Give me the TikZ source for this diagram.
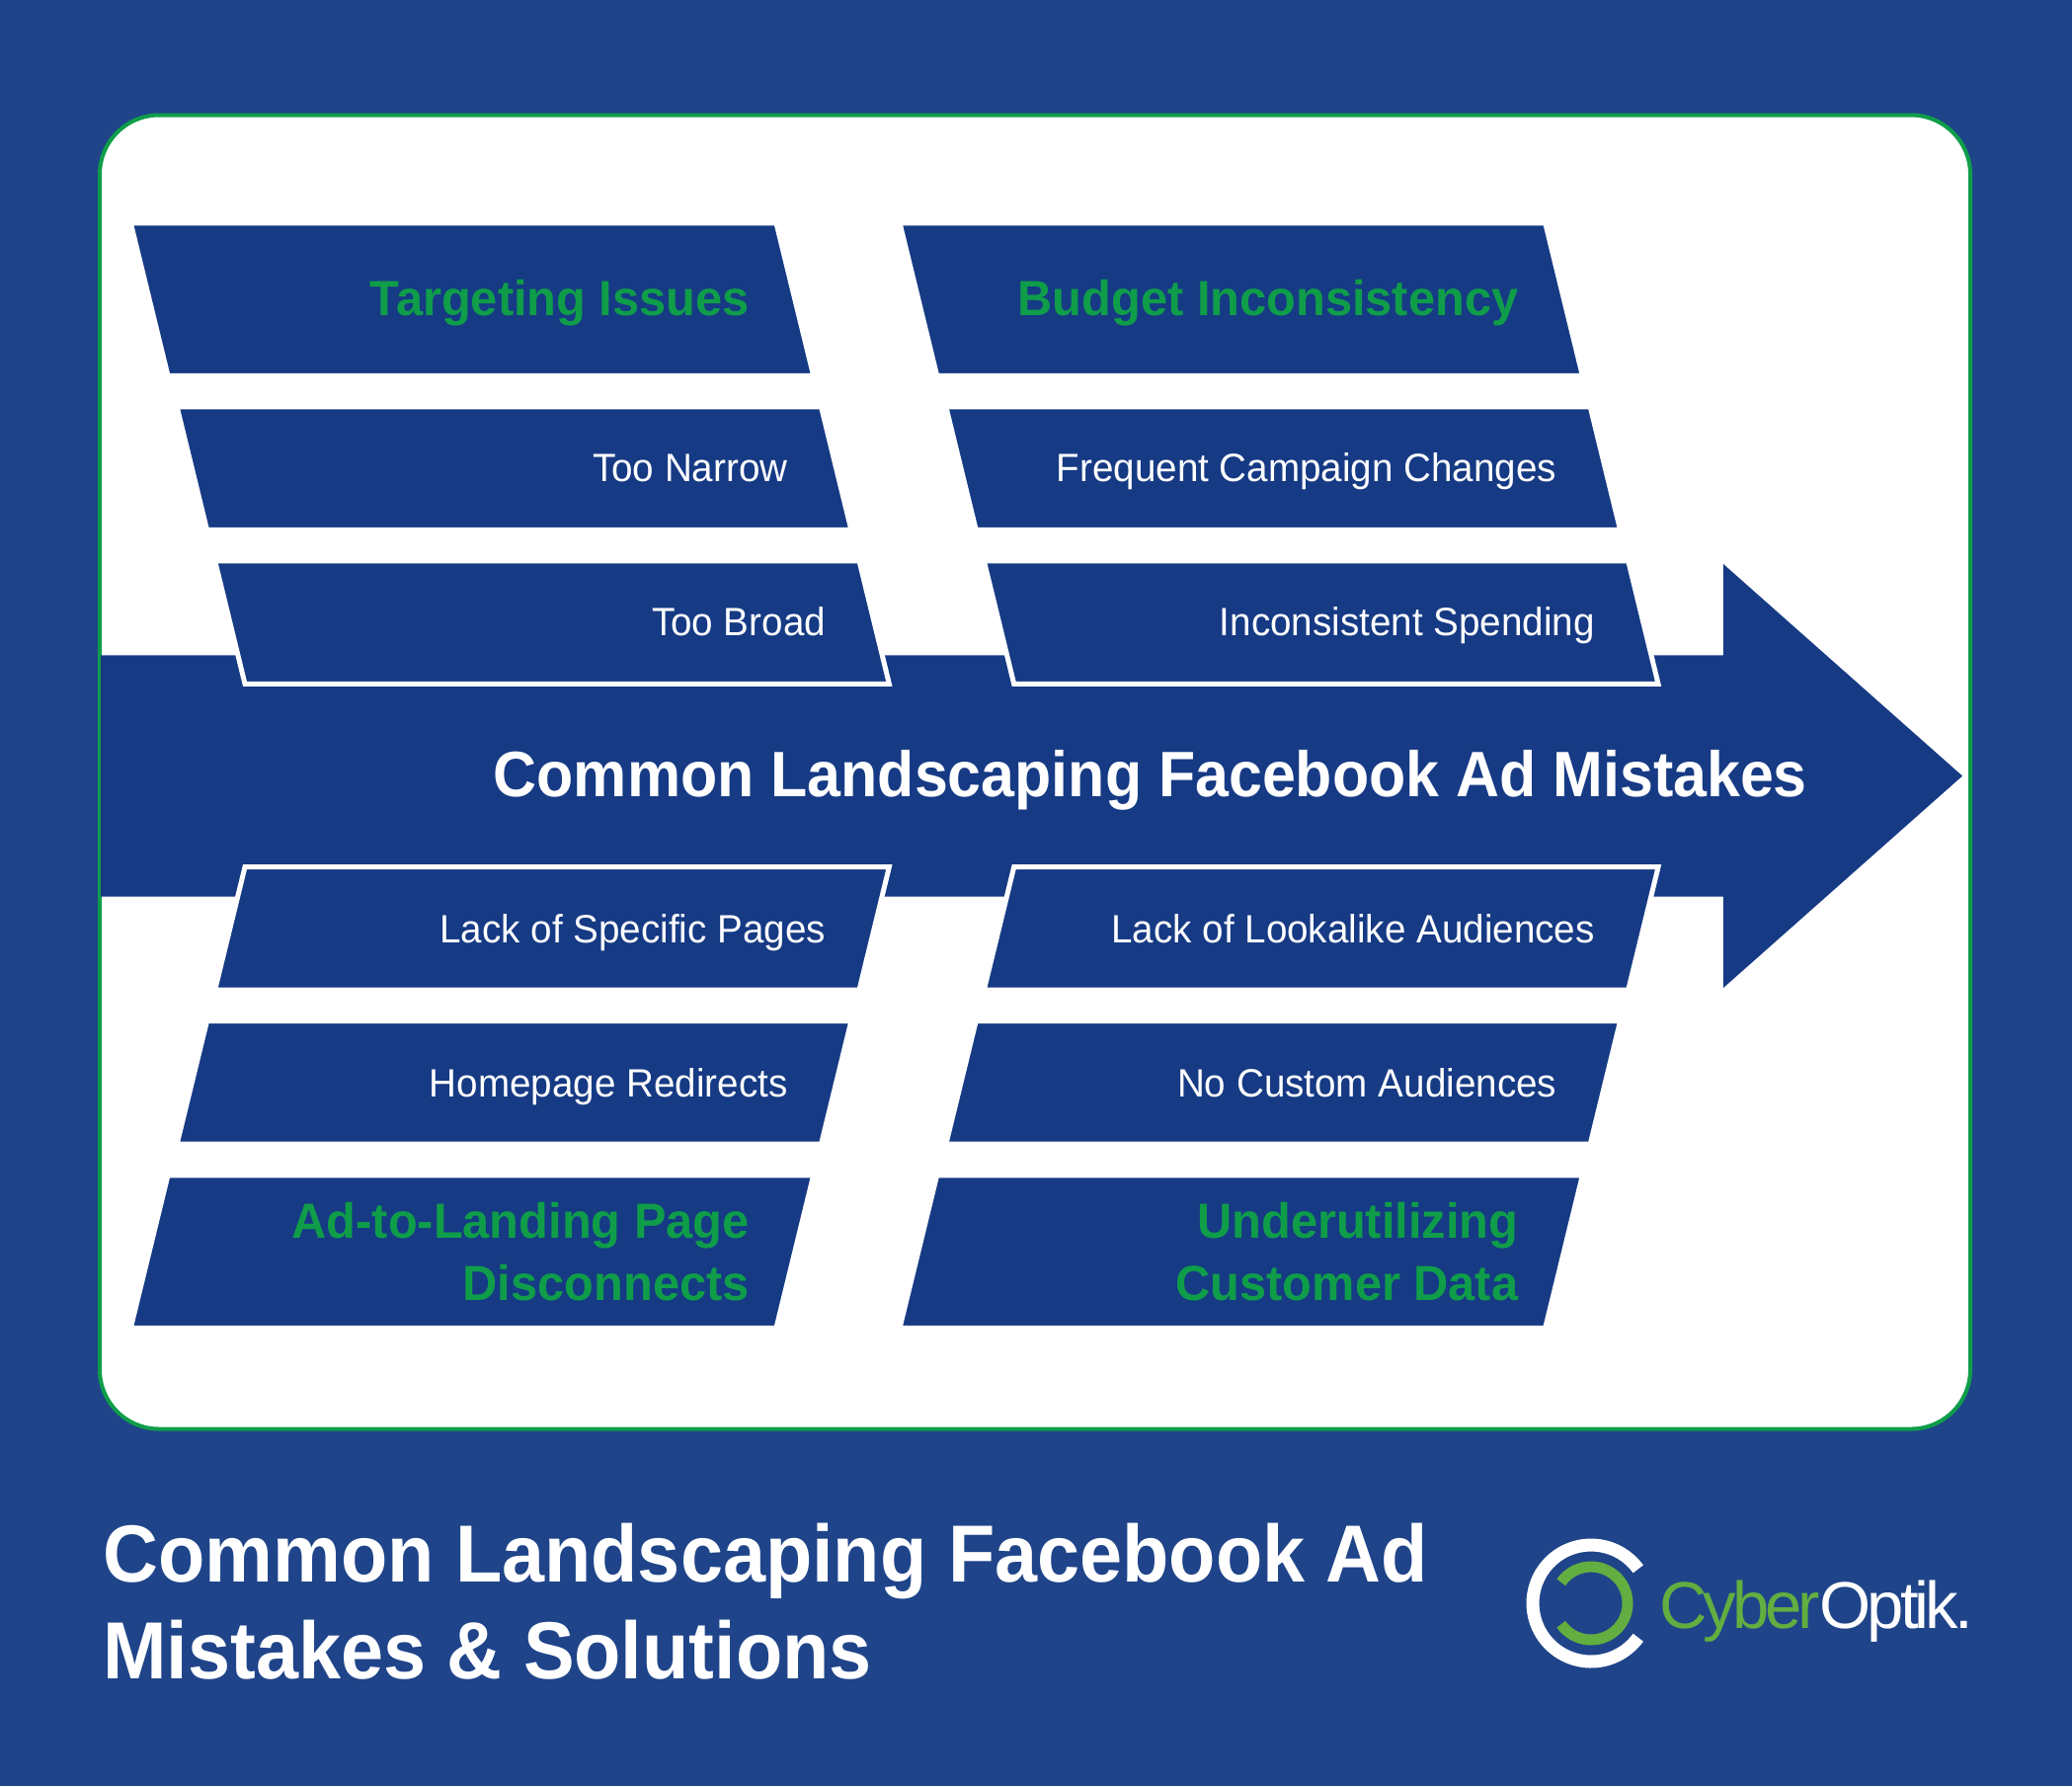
\documentclass[tikz,border=0pt]{standalone}
\usepackage{fontspec}
\setmainfont{Liberation Sans}
\newfontfamily\logofont[LetterSpace=-6]{Liberation Sans}
\usetikzlibrary{positioning,shapes.geometric,shapes.arrows}
\definecolor{pageblue}{HTML}{1F4489}
\definecolor{boxblue}{HTML}{163A84}
\definecolor{headgreen}{HTML}{0F9D4A}
\definecolor{logogreen}{HTML}{62AE40}

\begin{document}
\begin{tikzpicture}[
x=1pt, y=-1pt, node distance=31.5pt,
page/.style={rectangle, fill=pageblue, minimum width=2098pt, minimum height=1808pt, inner sep=0pt, outer sep=0pt, anchor=north west},
card/.style={rectangle, rounded corners=60pt, draw=headgreen, fill=white, line width=4pt, minimum width=1894pt, minimum height=1330pt, inner sep=0pt, outer sep=0pt},
bigarrow/.style={single arrow, fill=boxblue, single arrow tip angle=83.1, single arrow head extend=92.5pt, single arrow head indent=0pt, minimum height=1885pt, inner sep=0pt, outer sep=0pt, text width=10pt, text height=122pt, text depth=122pt},
slantbase/.style={trapezium, fill=boxblue, draw=white, line width=5pt, inner sep=0pt, outer sep=0pt, text depth=0pt},
upper/.style={slantbase, trapezium left angle=103.7, trapezium right angle=76.3},
lower/.style={slantbase, trapezium left angle=76.3, trapezium right angle=103.7},
headbox/.style={text width=616pt, text height=154.5pt},
itembox/.style={text width=622pt, text height=124.5pt},
headlabel/.style={text=headgreen, font=\fontsize{50}{63}\selectfont\bfseries\addfontfeature{FakeStretch=0.975}, align=right, inner sep=0pt, yshift=1.5pt},
headline/.style={headlabel, text height=36pt, text depth=0pt},
itemlabel/.style={text=white, font=\fontsize{40}{46}\selectfont\addfontfeature{FakeStretch=0.965}, inner sep=0pt, text height=29pt, text depth=0pt, yshift=1.5pt},
lowlabel/.style={yshift=-1.5pt},
arrowlabel/.style={text=white, font=\fontsize{65}{70}\selectfont\bfseries\addfontfeature{FakeStretch=0.937}, inner sep=0pt, text height=47pt, text depth=0pt},
titlelabel/.style={text=white, font=\fontsize{82}{98}\selectfont\bfseries\addfontfeature{FakeStretch=0.944}, align=left, inner sep=0pt}
]
\node[page](background) at (0,0){};
\node[card](panel) at (1048,781.5){};
\node[bigarrow, anchor=tip](main_arrow) at (1987,785.5){};
\node[arrowlabel, anchor=east](main_label) at (1830,783){Common Landscaping Facebook Ad Mistakes};

\node[upper, headbox](targeting) at (478,303){};
\node[upper, itembox](too_narrow)[below=of targeting,xshift=42.5pt]{};
\node[upper, itembox](too_broad)[below=of too_narrow,xshift=38.5pt]{};

\node[upper, headbox](budget)[right=125pt of targeting]{};
\node[upper, itembox](campaign_changes)[below=of budget,xshift=42.5pt]{};
\node[upper, itembox](spending)[below=of campaign_changes,xshift=38.5pt]{};

\node[lower, headbox](disconnects) at (478,1267){};
\node[lower, itembox](redirects)[above=of disconnects,xshift=42.5pt]{};
\node[lower, itembox](specific_pages)[above=of redirects,xshift=38.5pt]{};

\node[lower, headbox](customer_data)[right=125pt of disconnects]{};
\node[lower, itembox](custom_aud)[above=of customer_data,xshift=42.5pt]{};
\node[lower, itembox](lookalike_aud)[above=of custom_aud,xshift=38.5pt]{};

\node[headline](targeting_text)[left=46pt of targeting.east]{Targeting Issues};
\node[itemlabel](narrow_text)[left=49pt of too_narrow.east]{Too Narrow};
\node[itemlabel](broad_text)[left=49pt of too_broad.east]{Too Broad};
\node[headline](budget_text)[left=46pt of budget.east]{Budget Inconsistency};
\node[itemlabel](changes_text)[left=49pt of campaign_changes.east]{Frequent Campaign Changes};
\node[itemlabel](spending_text)[left=49pt of spending.east]{Inconsistent Spending};
\node[headlabel, lowlabel](disconnects_text)[left=46pt of disconnects.east]{Ad-to-Landing Page\\Disconnects};
\node[itemlabel, lowlabel](redirects_text)[left=49pt of redirects.east]{Homepage Redirects};
\node[itemlabel, lowlabel](pages_text)[left=49pt of specific_pages.east]{Lack of Specific Pages};
\node[headlabel, lowlabel](data_text)[left=46pt of customer_data.east]{Underutilizing\\Customer Data};
\node[itemlabel, lowlabel](custom_text)[left=49pt of custom_aud.east]{No Custom Audiences};
\node[itemlabel, lowlabel](lookalike_text)[left=49pt of lookalike_aud.east]{Lack of Lookalike Audiences};

\node[titlelabel, anchor=west](title) at (104,1621.5){Common Landscaping Facebook Ad\\Mistakes \& Solutions};

\coordinate (logo_center) at (1611,1623);
\draw[white, line width=13pt] ([shift={(36:59pt)}]logo_center) arc[start angle=36, end angle=324, radius=59pt];
\draw[logogreen, line width=11pt] ([shift={(145:37pt)}]logo_center) arc[start angle=145, end angle=-145, radius=37pt];
\node[inner sep=0pt, anchor=base west, font=\fontsize{67}{70}\logofont](logo_text) at (1680,1648){\textcolor{logogreen}{Cyber}\textcolor{white}{Optik.}};
\end{tikzpicture}
\end{document}
